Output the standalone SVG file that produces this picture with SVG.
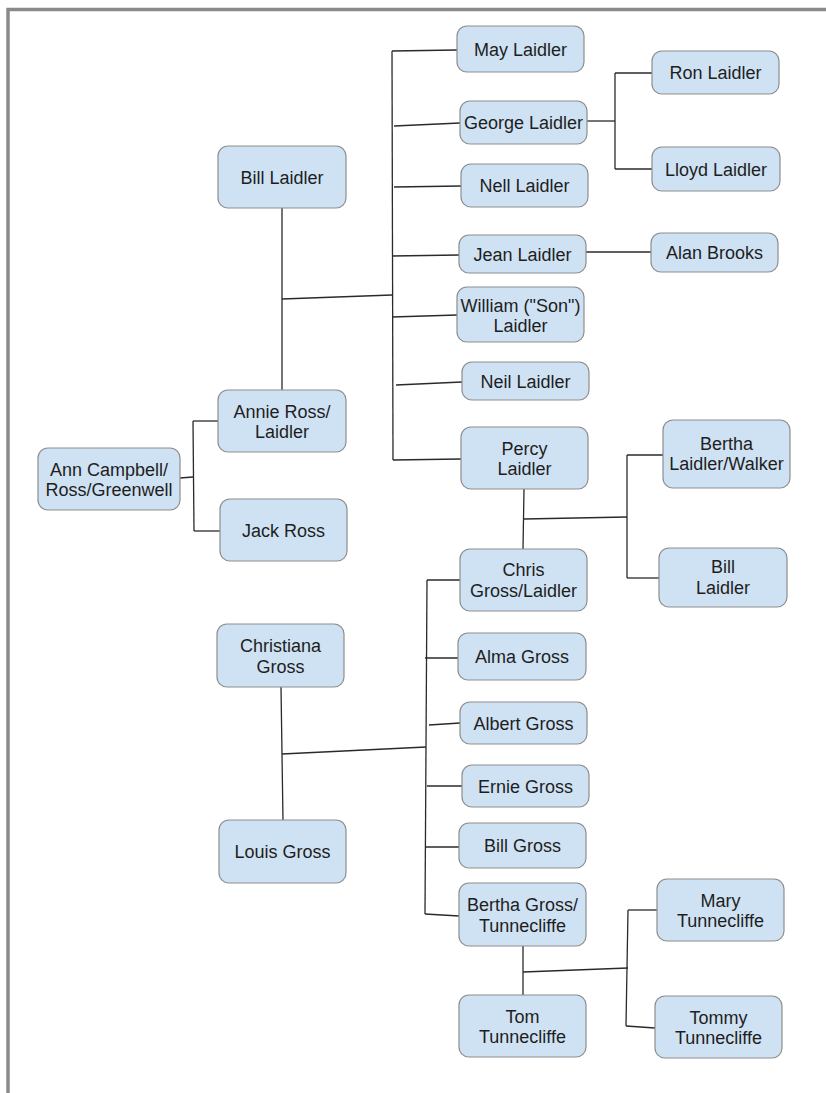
<svg xmlns="http://www.w3.org/2000/svg" width="826" height="1093" viewBox="0 0 826 1093">
<style>
.n rect{fill:#cfe2f3;stroke:#8e8e8e;stroke-width:1.2}
.n text{font-family:"Liberation Sans",Arial,sans-serif;font-size:18px;fill:#1e1e1e;text-anchor:middle}
#connectors line{stroke:#2a2a2a;stroke-width:1.3;fill:none}
</style>
<rect x="0" y="0" width="826" height="1093" fill="#ffffff"/>
<rect x="8" y="9.5" width="900" height="1200" fill="none" stroke="#8a8a8a" stroke-width="3.5"/>
<g id="connectors">
<line x1="282" y1="208" x2="282" y2="390"/>
<line x1="282" y1="299" x2="392" y2="295"/>
<line x1="392" y1="51" x2="393" y2="460"/>
<line x1="392" y1="51" x2="457" y2="50"/>
<line x1="394" y1="126" x2="460" y2="123"/>
<line x1="394" y1="187" x2="461" y2="186"/>
<line x1="392" y1="256" x2="459" y2="255"/>
<line x1="392" y1="317" x2="457" y2="315"/>
<line x1="396" y1="385" x2="462" y2="382"/>
<line x1="393" y1="460" x2="461" y2="459"/>
<line x1="587" y1="121" x2="615" y2="121"/>
<line x1="615" y1="73" x2="615" y2="169"/>
<line x1="615" y1="73" x2="652" y2="73"/>
<line x1="615" y1="169" x2="652" y2="169"/>
<line x1="586" y1="252" x2="651" y2="252"/>
<line x1="180" y1="478" x2="193" y2="477"/>
<line x1="193" y1="421" x2="194" y2="531"/>
<line x1="193" y1="421" x2="218" y2="421"/>
<line x1="194" y1="531" x2="220" y2="531"/>
<line x1="524" y1="489" x2="523" y2="549"/>
<line x1="524" y1="519" x2="627" y2="517"/>
<line x1="627" y1="455" x2="627" y2="578"/>
<line x1="627" y1="455" x2="663" y2="455"/>
<line x1="627" y1="578" x2="659" y2="578"/>
<line x1="281" y1="687" x2="283" y2="821"/>
<line x1="282" y1="754" x2="426" y2="747"/>
<line x1="427" y1="580" x2="425" y2="914"/>
<line x1="427" y1="580" x2="460" y2="580"/>
<line x1="425" y1="658" x2="458" y2="658"/>
<line x1="429" y1="725" x2="460" y2="723"/>
<line x1="427" y1="786" x2="462" y2="786"/>
<line x1="425" y1="847" x2="459" y2="847"/>
<line x1="425" y1="914" x2="459" y2="916"/>
<line x1="523" y1="946" x2="523" y2="995"/>
<line x1="523" y1="972" x2="628" y2="968"/>
<line x1="628" y1="910" x2="626" y2="1026"/>
<line x1="628" y1="910" x2="657" y2="910"/>
<line x1="626" y1="1026" x2="655" y2="1028"/>
</g>
<g id="bill1" class="n"><rect x="218" y="146" width="128" height="62" rx="10"/><text x="282" y="183.5">Bill Laidler</text></g>
<g id="annie" class="n"><rect x="218" y="390" width="128" height="62" rx="10"/><text x="282" y="418">Annie Ross/</text><text x="282" y="438">Laidler</text></g>
<g id="ann" class="n"><rect x="38" y="448" width="142" height="62" rx="10"/><text x="109" y="476">Ann Campbell/</text><text x="109" y="496">Ross/Greenwell</text></g>
<g id="jack" class="n"><rect x="220" y="499" width="127" height="62" rx="10"/><text x="283.5" y="536.5">Jack Ross</text></g>
<g id="may" class="n"><rect x="457" y="26" width="127" height="46" rx="10"/><text x="520.5" y="55.5">May Laidler</text></g>
<g id="george" class="n"><rect x="460" y="101" width="127" height="43" rx="10"/><text x="523.5" y="129">George Laidler</text></g>
<g id="ron" class="n"><rect x="652" y="51" width="127" height="43" rx="10"/><text x="715.5" y="79">Ron Laidler</text></g>
<g id="lloyd" class="n"><rect x="652" y="147" width="128" height="44" rx="10"/><text x="716" y="175.5">Lloyd Laidler</text></g>
<g id="nell" class="n"><rect x="461" y="164" width="127" height="43" rx="10"/><text x="524.5" y="192">Nell Laidler</text></g>
<g id="jean" class="n"><rect x="459" y="235" width="127" height="38" rx="10"/><text x="522.5" y="260.5">Jean Laidler</text></g>
<g id="alan" class="n"><rect x="651" y="233" width="127" height="39" rx="10"/><text x="714.5" y="259">Alan Brooks</text></g>
<g id="william" class="n"><rect x="457" y="287" width="127" height="55" rx="10"/><text x="520.5" y="311.5">William ("Son")</text><text x="520.5" y="332">Laidler</text></g>
<g id="neil" class="n"><rect x="462" y="362" width="127" height="38" rx="10"/><text x="525.5" y="387.5">Neil Laidler</text></g>
<g id="percy" class="n"><rect x="461" y="427" width="127" height="62" rx="10"/><text x="524.5" y="454.5">Percy</text><text x="524.5" y="474.5">Laidler</text></g>
<g id="bertha-laidler" class="n"><rect x="663" y="420" width="127" height="68" rx="10"/><text x="726.5" y="450">Bertha</text><text x="726.5" y="470">Laidler/Walker</text></g>
<g id="bill2" class="n"><rect x="659" y="548" width="128" height="59" rx="10"/><text x="723" y="573">Bill</text><text x="723" y="594">Laidler</text></g>
<g id="chris" class="n"><rect x="460" y="549" width="127" height="62" rx="10"/><text x="523.5" y="576">Chris</text><text x="523.5" y="596.5">Gross/Laidler</text></g>
<g id="christiana" class="n"><rect x="217" y="624" width="127" height="63" rx="10"/><text x="280.5" y="652">Christiana</text><text x="280.5" y="672.5">Gross</text></g>
<g id="louis" class="n"><rect x="219" y="820" width="127" height="63" rx="10"/><text x="282.5" y="858">Louis Gross</text></g>
<g id="alma" class="n"><rect x="458" y="633" width="128" height="47" rx="10"/><text x="522" y="663">Alma Gross</text></g>
<g id="albert" class="n"><rect x="460" y="702" width="127" height="42" rx="10"/><text x="523.5" y="729.5">Albert Gross</text></g>
<g id="ernie" class="n"><rect x="462" y="765" width="127" height="42" rx="10"/><text x="525.5" y="792.5">Ernie Gross</text></g>
<g id="bill-gross" class="n"><rect x="459" y="823" width="127" height="45" rx="10"/><text x="522.5" y="852">Bill Gross</text></g>
<g id="bertha-gross" class="n"><rect x="459" y="883" width="127" height="63" rx="10"/><text x="522.5" y="911">Bertha Gross/</text><text x="522.5" y="931.5">Tunnecliffe</text></g>
<g id="tom" class="n"><rect x="459" y="995" width="127" height="62" rx="10"/><text x="522.5" y="1022.5">Tom</text><text x="522.5" y="1042.5">Tunnecliffe</text></g>
<g id="mary" class="n"><rect x="657" y="879" width="127" height="62" rx="10"/><text x="720.5" y="906.5">Mary</text><text x="720.5" y="926.5">Tunnecliffe</text></g>
<g id="tommy" class="n"><rect x="655" y="996" width="127" height="62" rx="10"/><text x="718.5" y="1023.5">Tommy</text><text x="718.5" y="1043.5">Tunnecliffe</text></g>
</svg>
